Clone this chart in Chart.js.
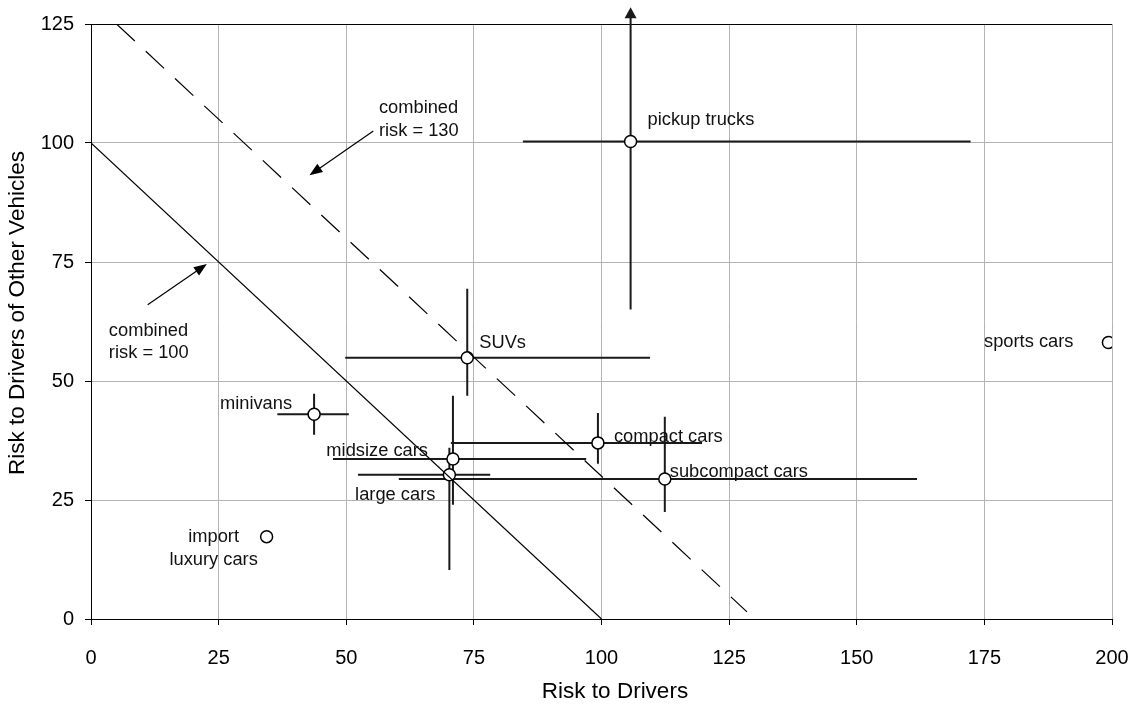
<!DOCTYPE html>
<html>
<head>
<meta charset="utf-8">
<script src="https://cdn.jsdelivr.net/npm/chart.js@4.4.0/dist/chart.umd.min.js"></script>
<style>
  html, body { margin: 0; padding: 0; background: #fff; }
  canvas { display: block; }
</style>
</head>
<body>
<canvas id="riskChart" width="1130" height="704"></canvas>
<script>
// vehicle classes and their risk values
const categories = ['pickup trucks', 'SUVs', 'minivans', 'compact cars', 'midsize cars',
                    'large cars', 'subcompact cars', 'import luxury cars', 'sports cars'];
const driverRisk = [105.7, 73.7, 43.7, 99.3, 70.9, 70.2, 112.4, 34.4, 199.3];
const otherRisk  = [100.3, 54.9, 43.0, 37.0, 33.6, 30.3, 29.4, 17.3, 58.1];
// ranges (error bars)
const driverLow  = [84.6, 49.8, 36.5, 70.5, 47.4, 52.3, 60.3, null, null];
const driverHigh = [172.3, 109.5, 50.5, 119.7, 97.0, 78.2, 161.8, null, null];
const otherLow   = [65.0, 46.9, 38.7, 32.6, 24.0, 10.3, 22.5, null, null];
const otherHigh  = [128.5, 69.4, 47.3, 43.3, 46.9, 36.0, 42.5, null, null];
// combined risk lines
const combined100 = [{x: 0, y: 100}, {x: 100, y: 0}];
const combined130 = [{x: 5, y: 125}, {x: 128.5, y: 1.5}];
const xTicks = [0, 25, 50, 75, 100, 125, 150, 175, 200];
const yTicks = [0, 25, 50, 75, 100, 125];
const xTitle = 'Risk to Drivers';
const yTitle = 'Risk to Drivers of Other Vehicles';

const FONT = '"Liberation Sans", Arial, sans-serif';

// where each label sits relative to its point (pixels)
const labelPlacement = [
    {dx: 17, dy: -22, align: 'left'},
    {dx: 12, dy: -15, align: 'left'},
    {dx: -22, dy: -10, align: 'right'},
    {dx: 16, dy: -6, align: 'left'},
    {dx: -25, dy: -8, align: 'right'},
    {dx: -14, dy: 20, align: 'right'},
    {dx: 5, dy: -7, align: 'left'},
    {dx: -53, dy: 0, align: 'center'},
    {dx: -35, dy: 0, align: 'right'}
];

function arrowHead(ctx, x1, y1, x2, y2, len, wid) {
    const a = Math.atan2(y2 - y1, x2 - x1);
    ctx.beginPath();
    ctx.moveTo(x2, y2);
    ctx.lineTo(x2 - len * Math.cos(a) + wid / 2 * Math.sin(a), y2 - len * Math.sin(a) - wid / 2 * Math.cos(a));
    ctx.lineTo(x2 - len * Math.cos(a) - wid / 2 * Math.sin(a), y2 - len * Math.sin(a) + wid / 2 * Math.cos(a));
    ctx.closePath();
    ctx.fill();
}

const errorBars = {
    id: 'errorBars',
    beforeDatasetsDraw(chart) {
        const {ctx, scales: {x, y}} = chart;
        ctx.save();
        ctx.strokeStyle = '#1a1a1a';
        ctx.fillStyle = '#1a1a1a';
        ctx.lineWidth = 2;
        categories.forEach((c, i) => {
            if (driverLow[i] == null) return;
            const px = x.getPixelForValue(driverRisk[i]);
            const py = y.getPixelForValue(otherRisk[i]);
            ctx.beginPath();
            ctx.moveTo(x.getPixelForValue(driverLow[i]), py);
            ctx.lineTo(x.getPixelForValue(driverHigh[i]), py);
            ctx.moveTo(px, y.getPixelForValue(otherLow[i]));
            const top = y.getPixelForValue(otherHigh[i]);
            const offScale = otherHigh[i] > y.max;
            ctx.lineTo(px, offScale ? top + 9 : top);
            ctx.stroke();
            if (offScale) arrowHead(ctx, px, top + 20, px, top, 11, 12);
        });
        ctx.restore();
    }
};

const textLabels = {
    id: 'textLabels',
    afterDatasetsDraw(chart) {
        const {ctx, scales: {x, y}} = chart;
        ctx.save();
        ctx.font = '18.3px ' + FONT;
        ctx.fillStyle = '#111';
        ctx.textBaseline = 'middle';
        categories.forEach((c, i) => {
            const p = labelPlacement[i];
            const px = x.getPixelForValue(driverRisk[i]) + p.dx;
            const py = y.getPixelForValue(otherRisk[i]) + p.dy;
            ctx.textAlign = p.align;
            if (c === 'import luxury cars') {
                ctx.fillText('import', px, py);
                ctx.fillText('luxury cars', px, py + 23);
            } else {
                ctx.fillText(c, px, py);
            }
        });

        // combined risk notes
        ctx.textAlign = 'left';
        ctx.fillText('combined', x.getPixelForValue(56.4), y.getPixelForValue(107.4));
        ctx.fillText('risk = 130', x.getPixelForValue(56.4), y.getPixelForValue(107.4) + 23.5);
        ctx.fillText('combined', x.getPixelForValue(3.5), y.getPixelForValue(60.6));
        ctx.fillText('risk = 100', x.getPixelForValue(3.5), y.getPixelForValue(60.6) + 22.5);

        ctx.strokeStyle = '#000';
        ctx.fillStyle = '#000';
        ctx.lineWidth = 1.2;
        [[55.3, 102.5, 42.8, 93.2], [11.1, 66.0, 22.7, 74.6]].forEach(a => {
            const x1 = x.getPixelForValue(a[0]), y1 = y.getPixelForValue(a[1]);
            const x2 = x.getPixelForValue(a[2]), y2 = y.getPixelForValue(a[3]);
            const ang = Math.atan2(y2 - y1, x2 - x1);
            ctx.beginPath();
            ctx.moveTo(x1, y1);
            ctx.lineTo(x2 - 8 * Math.cos(ang), y2 - 8 * Math.sin(ang));
            ctx.stroke();
            arrowHead(ctx, x1, y1, x2, y2, 13, 10);
        });

        // axis titles (drawn here to match the original's slightly off-centre placement)
        ctx.font = '22.5px ' + FONT;
        ctx.fillStyle = '#000';
        ctx.textAlign = 'center';
        ctx.fillText(xTitle, 615, 692);
        ctx.translate(18, 313);
        ctx.rotate(-Math.PI / 2);
        ctx.fillText(yTitle, 0, 0);
        ctx.restore();
    }
};

const ctx = document.getElementById('riskChart').getContext('2d');
const riskChart = new Chart(ctx, {
    type: 'scatter',
    data: {
        datasets: [
            {
                label: 'combined risk = 100',
                data: combined100,
                showLine: true,
                borderColor: '#000',
                borderWidth: 1.2,
                pointRadius: 0
            },
            {
                label: 'combined risk = 130',
                data: combined130,
                showLine: true,
                borderColor: '#000',
                borderWidth: 1.2,
                borderDash: [25, 15],
                pointRadius: 0
            },
            {
                label: 'vehicles',
                data: categories.map((c, i) => ({x: driverRisk[i], y: otherRisk[i]})),
                pointRadius: 6,
                pointHoverRadius: 6,
                pointBackgroundColor: '#fff',
                pointBorderColor: '#000',
                pointBorderWidth: 1.5
            }
        ]
    },
    options: {
        responsive: false,
        animation: false,
        layout: { padding: { top: 24, right: 18, left: 0, bottom: 0 } },
        scales: {
            x: {
                type: 'linear',
                min: 0,
                max: 200,
                afterBuildTicks: (s) => { s.ticks = xTicks.map(v => ({value: v})); },
                afterFit: (s) => { s.height = 85; s.paddingLeft = 0; s.paddingRight = 0; },
                ticks: { color: '#000', font: { family: FONT, size: 20 }, padding: 21 },
                grid: { color: '#b3b3b3', tickColor: '#000', tickLength: 6 },
                border: { color: '#000', width: 1 },
                title: { display: false }
            },
            y: {
                type: 'linear',
                min: 0,
                max: 125,
                afterBuildTicks: (s) => { s.ticks = yTicks.map(v => ({value: v})); },
                afterFit: (s) => { s.width = 91; s.paddingTop = 0; s.paddingBottom = 0; },
                ticks: { color: '#000', font: { family: FONT, size: 20 }, padding: 11 },
                grid: {
                    color: (c) => (c.tick && c.tick.value === 125) ? '#000' : '#b3b3b3',
                    tickColor: '#000',
                    tickLength: 6
                },
                border: { color: '#000', width: 1 },
                title: { display: false }
            }
        },
        plugins: {
            legend: { display: false },
            tooltip: { enabled: false }
        }
    },
    plugins: [errorBars, textLabels]
});
</script>
</body>
</html>
